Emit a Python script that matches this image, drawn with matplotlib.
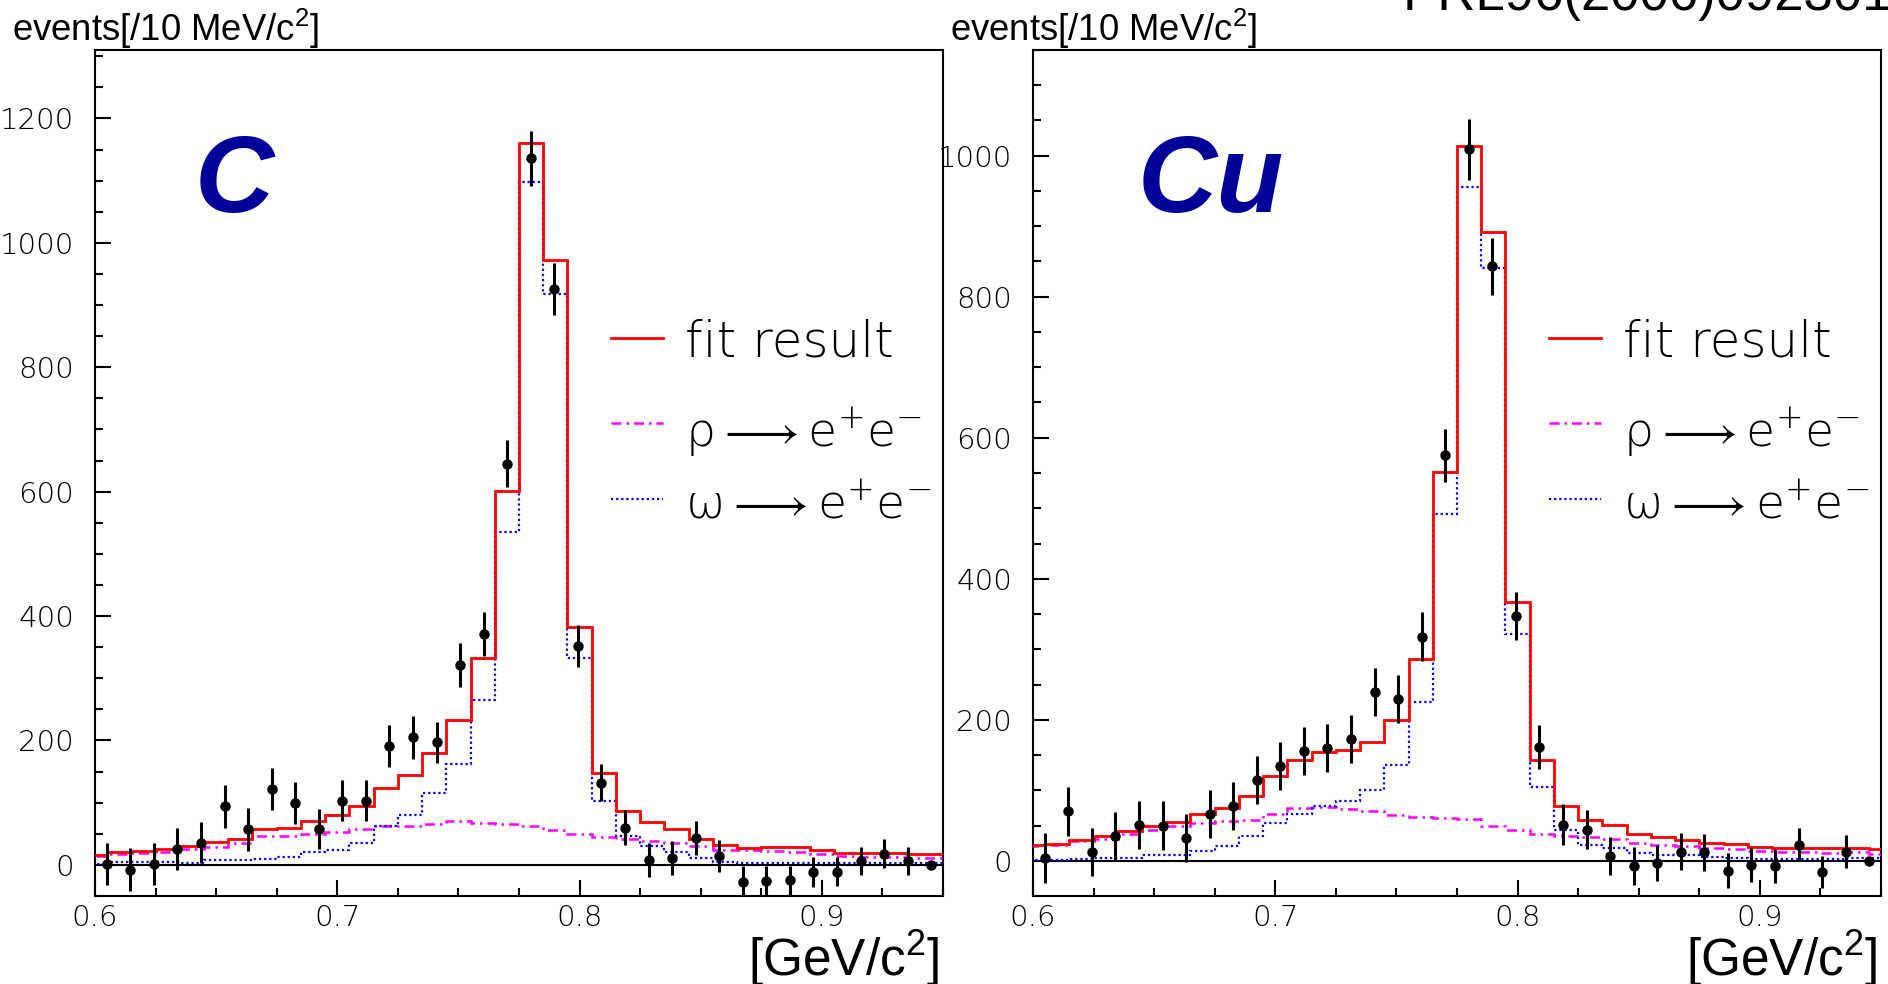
import matplotlib
matplotlib.use("Agg")
import matplotlib.pyplot as plt
import numpy as np
from matplotlib.ticker import MultipleLocator
from matplotlib.font_manager import FontProperties, findfont

# ---------------- data ----------------
# data points (36 bins over 0.60-0.95 GeV/c^2)
mass_pts = [0.6049, 0.6146, 0.6243, 0.6340, 0.6438, 0.6535, 0.6632, 0.6729, 0.6826,
            0.6924, 0.7021, 0.7118, 0.7215, 0.7313, 0.7410, 0.7507, 0.7604, 0.7701,
            0.7799, 0.7896, 0.7993, 0.8090, 0.8188, 0.8285, 0.8382, 0.8479, 0.8576,
            0.8674, 0.8771, 0.8868, 0.8965, 0.9063, 0.9160, 0.9257, 0.9354, 0.9451]

counts_C = [2, -7.5, 2, 26, 36, 94, 57, 122, 100, 58, 103, 103, 191, 205, 197, 321, 371, 645,
            1136, 926, 352, 132, 60, 8, 11, 43, 14, -27, -26, -25, -11, -11, 6, 18, 6, 0]
err_C = [34, 34, 34, 34, 33, 34, 34, 34, 34, 32, 33, 33, 34, 34, 33, 35, 35, 38,
         44, 42, 34, 30, 28, 27, 27, 27, 26, 25, 25, 24, 24, 23, 23, 23, 23, 0]

counts_Cu = [4, 70, 13, 35, 51, 50, 32, 66, 77, 114, 135, 156, 160, 173, 240, 229, 318, 575,
             1009, 843, 347, 161, 51, 44, 7, -7.5, -3, 13, 12, -14, -6, -7.5, 23, -16, 13, 0]
err_Cu = [35, 35, 34, 34, 34, 35, 34, 34, 34, 34, 34, 34, 34, 34, 34, 34, 35, 38,
          43, 41, 34, 31, 29, 28, 27, 27, 26, 26, 26, 25, 24, 24, 24, 23, 23, 0]

# fit templates (10 MeV bins centred at 0.60 ... 0.95)
fit_centers = [0.60, 0.61, 0.62, 0.63, 0.64, 0.65, 0.66, 0.67, 0.68, 0.69, 0.70, 0.71,
               0.72, 0.73, 0.74, 0.75, 0.76, 0.77, 0.78, 0.79, 0.80, 0.81, 0.82, 0.83,
               0.84, 0.85, 0.86, 0.87, 0.88, 0.89, 0.90, 0.91, 0.92, 0.93, 0.94, 0.95]

fit_C = [15.6, 21, 22, 25, 30.5, 37, 42, 57, 60, 70, 80, 95, 123, 145, 180, 233, 333, 601,
         1161, 973, 382, 148, 87, 69, 57, 42, 32, 27, 28, 29, 24, 19, 19, 19, 18, 17]
omega_C = [2, 5, 5, 4, 3.5, 8.5, 8.5, 10, 12, 21.5, 24, 36, 63, 81, 116, 163, 265, 535,
           1098, 918, 332, 102, 47, 30, 20, 11, 4.5, 3.5, 3.5, 3, 3, 3, 3, 3, 2.5, 2.5]
rho_C = [14.5, 17, 19, 21.5, 26, 29.5, 36, 46.5, 46.5, 49, 53, 58.5, 62.5, 62.5, 65, 70, 68, 66,
         62, 56, 49, 45.5, 41, 38, 35, 30.5, 24, 24, 22.5, 21, 17, 13.5, 13, 12, 11.5, 11]

fit_Cu = [21.7, 24, 28.8, 34.4, 41.5, 50, 55.6, 66.5, 75, 92.5, 120, 142.5, 154, 156.7, 169, 200,
          286, 551.5, 1013.7, 892, 367.5, 143, 77, 58, 51, 37.7, 33, 29.7, 25.5, 23.6, 20,
          17.4, 17.4, 18, 18, 16.5]
omega_Cu = [0.5, 1.4, 2.8, 4.2, 4.2, 8, 8, 13.7, 20.7, 34.4, 53.3, 66, 78, 84.5, 100.5, 135.4,
            224.6, 492, 956, 841, 321.7, 104, 43, 21.7, 18, 11.3, 8.5, 7.5, 5.2, 4.2, 2.8, 2.8,
            1.9, 1.9, 3.3, 3.3]
rho_Cu = [20.7, 22.6, 27.4, 31, 38, 43, 50, 53.3, 56, 58, 66.5, 74.5, 76, 73.6, 71, 65, 61.8,
          61, 59, 50, 44, 38, 35, 33.5, 31, 25.5, 22.6, 20.7, 18, 16, 14, 12.3, 12.3, 11.3, 12, 9.4]

panel_labels = ["C", "Cu"]
y_limits = [(-50, 1310), (-50, 1150)]
x_ticks = [0.6, 0.7, 0.8, 0.9]
legend_labels = ["fit result", r"$\rho\longrightarrow\mathrm{e}^{+}\mathrm{e}^{-}$",
                 r"$\omega\longrightarrow\mathrm{e}^{+}\mathrm{e}^{-}$"]
title_text = "PRL96(2006)092301"
ylabel_text = r"events[/10 MeV/c$^{\mathsf{2}}$]"
xlabel_text = r"[GeV/c$^{\mathsf{2}}$]"

# ---------------- style ----------------
# thin font (like ROOT's thin rendering); fall back to Roboto light
thin_family = 'DejaVu Sans'
thin_weight = 'light'
_f = findfont(FontProperties(family='DejaVu Sans', weight='light'))
if 'ight' not in _f:
    thin_family = 'Roboto'

plt.rcParams['mathtext.fontset'] = 'custom'
plt.rcParams['mathtext.rm'] = f'{thin_family}:{thin_weight}'
plt.rcParams['mathtext.it'] = f'{thin_family}:{thin_weight}'
plt.rcParams['mathtext.sf'] = 'Liberation Sans'
plt.rcParams['mathtext.fallback'] = 'stixsans'

light = FontProperties(family=thin_family, weight=thin_weight, size=21)
W, H = 1888, 984
fig = plt.figure(figsize=(W / 100, H / 100), dpi=100)

ax_left_px = [95, 1033]
label_x = [0.117, 0.123]
edges = np.concatenate([[fit_centers[0] - 0.005], np.array(fit_centers) + 0.005])

datasets = [
    (counts_C, err_C, fit_C, omega_C, rho_C),
    (counts_Cu, err_Cu, fit_Cu, omega_Cu, rho_Cu),
]

for i, (cnt, err, fit, om, rh) in enumerate(datasets):
    ax = fig.add_axes([ax_left_px[i] / W, 88 / H, 848 / W, 846 / H])
    ax.set_xlim(0.6, 0.95)
    ax.set_ylim(*y_limits[i])

    ax.axhline(0, color='black', lw=1.5, zorder=2)
    ax.stairs(rh, edges, color='magenta', lw=1.8, linestyle=(0, (4, 2, 1, 2)), zorder=3)
    ax.stairs(om, edges, color='blue', lw=1.6, linestyle=(0, (1, 1.3)), zorder=4)
    ax.stairs(fit, edges, color='red', lw=2.0, zorder=5)
    ax.errorbar(mass_pts, cnt, yerr=err, fmt='o', color='black', ms=6.5,
                elinewidth=2.2, capsize=0, zorder=6)

    for s in ax.spines.values():
        s.set_linewidth(1.5)
    ax.xaxis.set_major_locator(MultipleLocator(0.1))
    ax.xaxis.set_minor_locator(MultipleLocator(0.025))
    ax.yaxis.set_major_locator(MultipleLocator(200))
    ax.yaxis.set_minor_locator(MultipleLocator(50))
    ax.tick_params(which='both', direction='in', top=False, right=False, width=1.5)
    ax.tick_params(which='major', length=11.5)
    ax.tick_params(which='minor', length=5.8)
    ax.tick_params(axis='x', pad=6)
    ax.tick_params(axis='y', pad=15)
    ax.set_xticks(x_ticks)
    ax.set_xticklabels([f"{v:.1f}" for v in x_ticks])
    for lab in ax.get_xticklabels() + ax.get_yticklabels():
        lab.set_fontproperties(light)

    # panel label
    ax.text(label_x[i], 0.809, panel_labels[i], transform=ax.transAxes, color='#000099',
            fontsize=79, fontweight='bold', fontstyle='italic', family='Liberation Sans',
            ha='left', va='baseline')

    # legend (manual)
    styles = [dict(color='red', lw=2.0, ls='-'),
              dict(color='magenta', lw=1.8, ls=(0, (4, 2, 1, 2))),
              dict(color='blue', lw=1.6, ls=(0, (1, 1.3)))]
    line_y = [0.6596, 0.5595, 0.4696]
    text_y = [0.6375, 0.5307, 0.4468]
    sizes = [36, 34, 34]
    for st, ly, ty, lab, sz in zip(styles, line_y, text_y, legend_labels, sizes):
        ax.plot([0.608, 0.670], [ly, ly], transform=ax.transAxes, clip_on=False, **st)
        ax.text(0.696, ty, lab, transform=ax.transAxes, fontproperties=FontProperties(
            family=thin_family, weight=thin_weight, size=sz), ha='left', va='baseline')

    # axis titles
    fig.text((ax_left_px[i] - 83) / W, 1 - 41 / H, ylabel_text, fontsize=26.3,
             family='Liberation Sans', ha='left', va='baseline')
    fig.text((ax_left_px[i] + 845) / W, 1 - 976 / H, xlabel_text, fontsize=37,
             family='Liberation Sans', ha='right', va='baseline')

fig.text(1403 / W, 1 - 10 / H, title_text, fontsize=38, family='Liberation Sans',
         ha='left', va='baseline')

fig.savefig("out.png", dpi=100)
